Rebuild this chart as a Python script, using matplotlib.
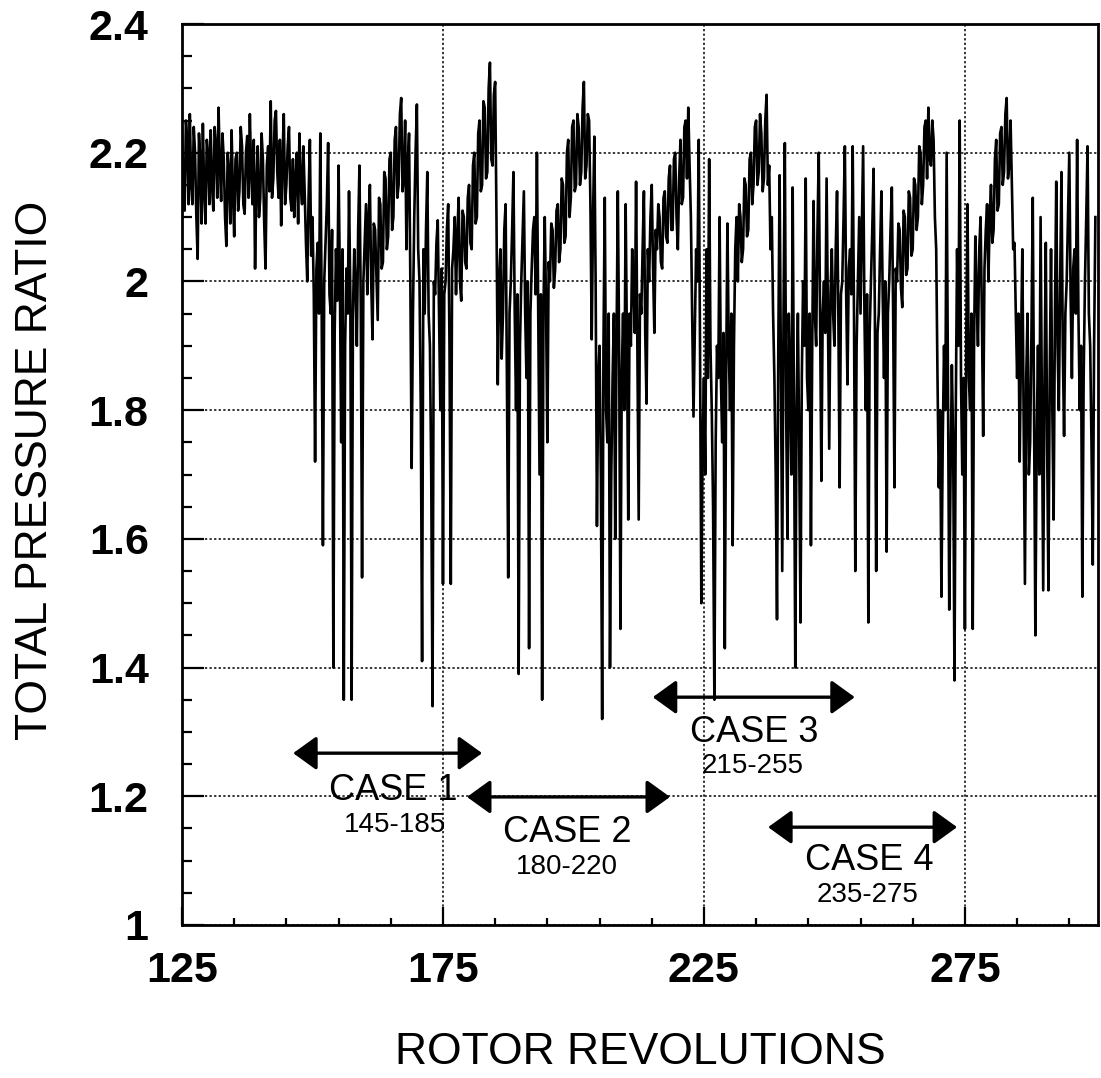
import numpy as np
import matplotlib.pyplot as plt
from matplotlib.ticker import FixedLocator, MultipleLocator, FormatStrFormatter

plt.rcParams['font.family'] = ['Liberation Sans', 'DejaVu Sans']

# total pressure ratio, every quarter revolution from rev 125
# (one row = 5 revolutions)
ratio = [
    2.24, 2.13, 2.11, 2.25, 2.22, 2.12, 2.26, 2.15, 2.12, 2.24, 2.20, 2.10, 2.035, 2.23, 2.19, 2.09, 2.245, 2.14, 2.09, 2.22,
    2.20, 2.12, 2.235, 2.15, 2.11, 2.24, 2.21, 2.13, 2.27, 2.18, 2.125, 2.23, 2.19, 2.10, 2.055, 2.20, 2.17, 2.09, 2.235, 2.14,
    2.07, 2.19, 2.20, 2.11, 2.14, 2.24, 2.21, 2.12, 2.105, 2.20, 2.226, 2.13, 2.26, 2.17, 2.12, 2.22, 2.02, 2.15, 2.21, 2.10,
    2.13, 2.23, 2.19, 2.09, 2.02, 2.18, 2.21, 2.14, 2.28, 2.13, 2.16, 2.25, 2.265, 2.17, 2.13, 2.22, 2.087, 2.19, 2.26, 2.12,
    2.15, 2.21, 2.24, 2.13, 2.11, 2.19, 2.10, 2.16, 2.20, 2.09, 2.23, 2.15, 2.12, 2.21, 2.14, 2.06, 2.00, 2.13, 2.22, 2.04,
    2.10, 1.98, 1.72, 2.02, 2.06, 1.95, 2.23, 1.97, 1.59, 2.00, 2.06, 2.12, 2.215, 1.98, 1.95, 2.08, 1.40, 1.92, 2.05, 1.97,
    2.18, 2.00, 1.75, 2.05, 1.35, 1.90, 2.02, 1.95, 2.14, 1.98, 1.35, 1.95, 2.05, 1.99, 1.90, 2.08, 2.18, 1.96, 1.54, 2.00,
    2.06, 2.12, 1.98, 2.10, 2.15, 2.00, 1.91, 2.09, 2.08, 2.01, 1.94, 2.13, 2.12, 2.02, 2.03, 2.17, 2.16, 2.05, 2.07, 2.19,
    2.20, 2.08, 2.10, 2.22, 2.24, 2.13, 2.15, 2.26, 2.285, 2.14, 2.16, 2.25, 2.05, 2.18, 2.23, 2.00, 1.71, 1.95, 2.10, 2.20,
    2.275, 2.05, 2.00, 1.80, 1.41, 2.05, 1.95, 2.08, 2.17, 1.95, 1.90, 1.70, 1.34, 2.00, 1.98, 2.06, 2.095, 1.95, 1.80, 2.02,
    1.53, 1.98, 2.00, 2.08, 2.12, 1.90, 1.53, 2.02, 2.05, 2.10, 1.98, 2.07, 2.13, 2.00, 1.97, 2.11, 2.10, 2.03, 2.02, 2.13,
    2.15, 2.06, 2.05, 2.18, 2.20, 2.09, 2.10, 2.23, 2.25, 2.14, 2.15, 2.28, 2.27, 2.16, 2.17, 2.30, 2.34, 2.19, 2.18, 2.29,
    2.31, 2.10, 1.84, 2.00, 2.05, 1.88, 1.95, 2.08, 2.12, 1.85, 1.54, 1.95, 2.00, 2.08, 2.17, 1.95, 1.80, 1.98, 1.39, 1.90,
    2.00, 2.07, 2.14, 1.95, 1.85, 2.00, 1.43, 1.95, 2.02, 2.08, 2.10, 1.98, 2.20, 1.95, 1.70, 1.98, 1.35, 1.95, 2.10, 1.96,
    1.75, 2.03, 2.00, 2.09, 2.08, 1.99, 2.02, 2.11, 2.12, 2.03, 2.05, 2.16, 2.15, 2.06, 2.07, 2.20, 2.22, 2.10, 2.13, 2.24,
    2.25, 2.14, 2.15, 2.26, 2.24, 2.15, 2.17, 2.27, 2.31, 2.16, 2.18, 2.26, 2.25, 2.12, 1.91, 2.10, 2.225, 2.00, 1.62, 1.85,
    1.90, 1.70, 1.32, 1.90, 2.13, 1.80, 1.75, 1.95, 1.40, 1.70, 1.85, 1.95, 1.60, 1.90, 2.14, 1.90, 1.46, 1.85, 1.95, 1.80,
    2.12, 1.90, 1.63, 1.95, 1.90, 2.05, 2.00, 1.92, 2.155, 1.90, 1.63, 1.98, 1.95, 2.05, 2.14, 1.92, 1.81, 2.05, 2.00, 2.10,
    2.15, 2.02, 1.92, 2.08, 2.05, 2.12, 2.10, 2.03, 2.02, 2.13, 2.14, 2.07, 2.06, 2.16, 2.18, 2.08, 2.08, 2.19, 2.20, 2.10,
    2.05, 2.16, 2.22, 2.12, 2.13, 2.24, 2.25, 2.16, 2.27, 2.18, 2.10, 1.95, 1.79, 1.92, 2.05, 2.00, 2.22, 1.90, 1.50, 1.75,
    1.85, 1.70, 2.05, 1.85, 2.19, 1.90, 1.80, 1.65, 1.35, 1.75, 1.90, 1.85, 2.10, 1.85, 1.75, 1.92, 1.43, 1.85, 2.09, 1.90,
    1.80, 1.95, 1.59, 1.90, 2.05, 2.10, 2.00, 2.12, 2.10, 2.03, 2.05, 2.16, 2.15, 2.07, 2.08, 2.19, 2.20, 2.12, 2.15, 2.24,
    2.25, 2.15, 2.17, 2.26, 2.23, 2.14, 2.16, 2.25, 2.29, 2.15, 2.18, 2.05, 2.10, 1.95, 1.85, 1.70, 1.475, 1.90, 2.165, 1.85,
    1.55, 1.95, 2.215, 1.80, 1.60, 1.95, 1.85, 1.70, 2.146, 1.80, 1.40, 1.80, 1.95, 1.75, 1.47, 1.85, 2.00, 1.90, 2.16, 1.85,
    1.80, 1.95, 1.59, 1.90, 2.125, 1.95, 1.90, 2.08, 2.20, 1.95, 1.69, 1.95, 2.00, 1.92, 2.16, 1.95, 1.74, 1.98, 2.05, 1.95,
    1.90, 2.05, 2.14, 1.95, 1.68, 1.98, 2.00, 2.10, 2.21, 1.98, 1.84, 2.02, 2.05, 1.98, 2.21, 1.95, 1.55, 1.90, 2.00, 2.10,
    1.95, 2.08, 2.21, 1.95, 1.80, 1.98, 1.47, 1.92, 2.00, 2.08, 2.175, 1.95, 1.55, 1.92, 1.95, 2.05, 2.14, 1.98, 1.85, 2.00,
    1.58, 1.95, 2.00, 2.08, 2.146, 1.95, 1.68, 2.02, 2.00, 2.09, 2.08, 1.99, 1.96, 2.11, 2.10, 2.01, 2.02, 2.14, 2.13, 2.04,
    2.05, 2.16, 2.15, 2.08, 2.10, 2.21, 2.20, 2.12, 2.15, 2.24, 2.25, 2.16, 2.27, 2.19, 2.18, 2.25, 2.22, 2.10, 2.05, 1.85,
    1.68, 1.80, 1.51, 1.75, 1.90, 1.80, 2.20, 1.85, 1.49, 1.70, 1.87, 1.75, 1.38, 1.80, 2.05, 1.90, 2.25, 1.85, 1.70, 1.85,
    1.46, 1.90, 2.12, 1.85, 1.80, 1.95, 1.46, 1.90, 2.07, 1.98, 1.90, 2.05, 2.10, 1.95, 1.76, 2.02, 2.08, 2.12, 2.00, 2.10,
    2.15, 2.06, 2.08, 2.19, 2.22, 2.11, 2.12, 2.23, 2.24, 2.15, 2.17, 2.26, 2.285, 2.16, 2.18, 2.25, 2.15, 2.05, 2.06, 1.95,
    1.85, 1.95, 1.72, 1.90, 2.05, 1.80, 1.53, 1.85, 1.95, 1.70, 1.75, 1.92, 2.13, 1.80, 1.45, 1.75, 1.90, 1.70, 2.10, 1.80,
    1.52, 1.85, 2.06, 1.75, 1.52, 1.85, 2.05, 1.80, 1.63, 1.95, 2.155, 1.90, 1.80, 2.00, 2.17, 1.90, 1.76, 1.95, 2.00, 2.10,
    2.20, 1.98, 1.85, 2.02, 2.05, 1.95, 2.22, 1.95, 1.80, 1.90, 1.51, 1.85, 2.00, 2.10, 2.21, 1.95, 1.90, 1.75, 1.56, 1.90,
    2.10,
]
revs = 125 + 0.25 * np.arange(len(ratio))

# test cases: rev ranges
case_names = ['CASE 1', 'CASE 2', 'CASE 3', 'CASE 4']
case_ranges = ['145-185', '180-220', '215-255', '235-275']

fig = plt.figure(figsize=(11.01, 10.78), dpi=100)
ax = fig.add_axes([182 / 1101, 1 - 925 / 1078, 916 / 1101, 901 / 1078])

ax.plot(revs, ratio, color='black', lw=1.9, zorder=3)

ax.set_xlim(125, 300.5)
ax.set_ylim(1.0, 2.4)
ax.xaxis.set_major_locator(FixedLocator([125, 175, 225, 275]))
ax.xaxis.set_minor_locator(FixedLocator(np.arange(135, 300, 10)))
ax.yaxis.set_major_locator(MultipleLocator(0.2))
ax.yaxis.set_minor_locator(MultipleLocator(0.05))
ax.yaxis.set_major_formatter(FormatStrFormatter('%g'))

ax.grid(True, which='major', color='black', lw=1.1, linestyle=(0, (1.5, 1.5)), zorder=1)
ax.tick_params(axis='both', which='both', direction='in', top=False, right=False, width=1.6)
ax.tick_params(axis='y', which='major', length=16, pad=24, labelsize=31)
ax.tick_params(axis='y', which='minor', length=7)
ax.tick_params(axis='x', which='major', length=13, pad=19, labelsize=31)
ax.tick_params(axis='x', which='minor', length=5)
for lab in ax.get_xticklabels() + ax.get_yticklabels():
    lab.set_fontweight('bold')
for sp in ax.spines.values():
    sp.set_linewidth(2.0)

fig.text(640 / 1101, 1 - 1053 / 1078, 'ROTOR REVOLUTIONS', fontsize=32,
         ha='center', va='center')
fig.text(36 / 1101, 1 - 470 / 1078, 'TOTAL PRESSURE RATIO', fontsize=32,
         rotation=90, ha='center', va='center')

# arrows and labels for the four cases
arrows = [(146.3, 182.5, 1.267), (179.6, 218.5, 1.199),
          (215.2, 253.9, 1.354), (237.3, 273.5, 1.152)]
name_pos = [(165.4, 1.194), (198.8, 1.1295), (234.6, 1.285), (256.6, 1.0855)]
range_pos = [(165.8, 1.145), (198.8, 1.080), (234.4, 1.236), (256.4, 1.036)]

for (x0, x1, y), (nx, ny), (rx, ry), name, rng in zip(arrows, name_pos, range_pos,
                                                     case_names, case_ranges):
    ax.annotate('', xy=(x1, y), xytext=(x0, y),
                arrowprops=dict(arrowstyle='<|-|>,head_length=0.72,head_width=0.52',
                                mutation_scale=20, lw=2.4, color='black',
                                shrinkA=0, shrinkB=0), zorder=4)
    ax.text(nx, ny, name, fontsize=26, ha='center', va='baseline', zorder=4)
    ax.text(rx, ry, rng, fontsize=20, ha='center', va='baseline', zorder=4)

fig.savefig('out.png', dpi=100)
